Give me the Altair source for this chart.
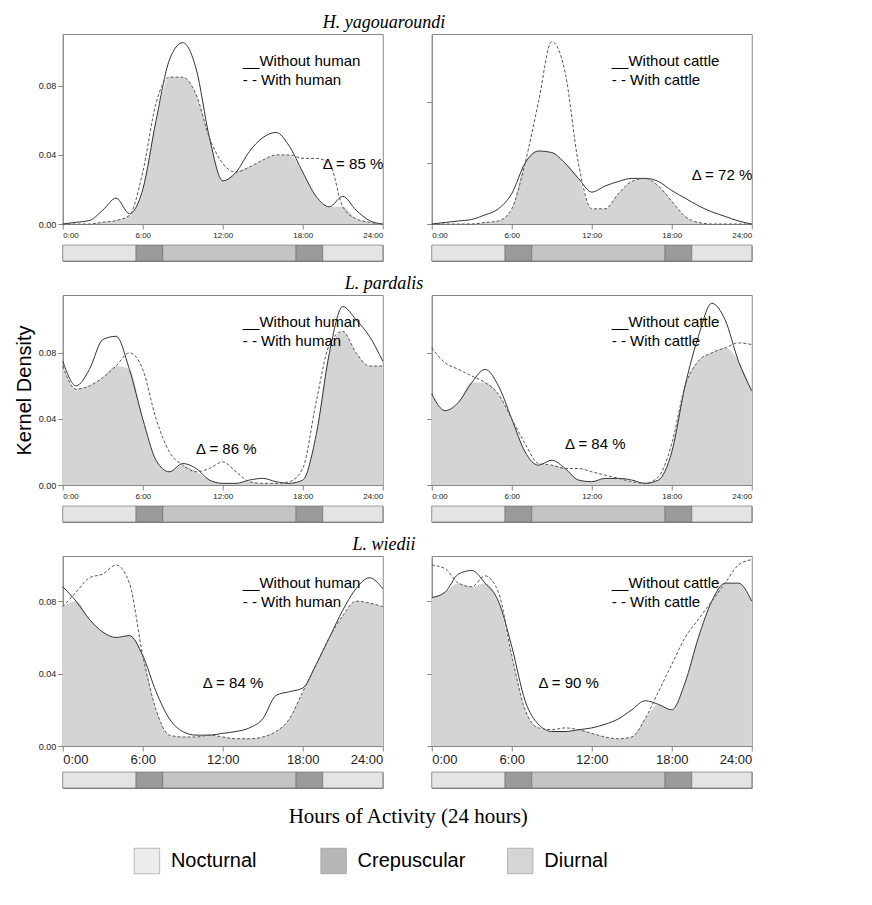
import altair as alt
import pandas as pd

HOURS = list(range(25))

# H. yagouaroundi
YAG_H_SOLID = [0, .001, .002, .008, .015, .006, .02, .06, .095, .105, .09, .05, .025, .03, .042, .05, .053, .045, .03, .016, .01, .016, .008, .002, 0]
YAG_H_DASH = [0, 0, 0, .001, .002, .005, .03, .07, .085, .085, .075, .05, .035, .03, .033, .037, .04, .04, .038, .038, .035, .01, .003, .001, 0]
YAG_C_SOLID = [0, .001, .002, .003, .006, .01, .02, .04, .048, .047, .04, .03, .021, .025, .028, .03, .03, .028, .022, .017, .012, .008, .005, .002, 0]
YAG_C_DASH = [0, 0, 0, 0, .001, .002, .01, .04, .08, .12, .1, .04, .01, .01, .02, .028, .03, .025, .015, .005, .001, 0, 0, 0, 0]
# L. pardalis
PAR_H_SOLID = [.075, .06, .07, .088, .09, .07, .04, .015, .008, .013, .01, .003, .001, .001, .003, .004, .002, .001, .003, .03, .08, .108, .1, .09, .075]
PAR_H_DASH = [.072, .058, .06, .065, .072, .08, .07, .04, .02, .012, .008, .01, .014, .008, .002, .001, .001, .002, .01, .05, .085, .093, .08, .072, .072]
PAR_C_SOLID = [.055, .045, .05, .062, .07, .06, .04, .02, .012, .015, .01, .003, .002, .004, .004, .003, .001, .003, .02, .06, .09, .11, .1, .075, .057]
PAR_C_DASH = [.083, .074, .07, .066, .062, .055, .04, .025, .013, .012, .01, .01, .008, .006, .004, .002, .001, .005, .025, .06, .075, .08, .083, .086, .085]
# L. wiedii
WIE_H_SOLID = [.088, .08, .07, .063, .06, .061, .05, .03, .015, .008, .006, .006, .007, .008, .01, .015, .028, .03, .032, .045, .06, .075, .087, .093, .087]
WIE_H_DASH = [.077, .085, .093, .095, .1, .09, .05, .02, .006, .005, .005, .006, .005, .004, .004, .005, .008, .015, .03, .045, .06, .072, .08, .079, .077]
WIE_C_SOLID = [.082, .085, .095, .097, .09, .08, .055, .025, .012, .008, .008, .009, .01, .012, .015, .02, .025, .023, .02, .035, .06, .08, .09, .09, .08]
WIE_C_DASH = [.1, .098, .09, .088, .094, .085, .05, .02, .01, .009, .01, .009, .007, .005, .004, .005, .015, .03, .045, .06, .07, .08, .09, .1, .103]

PERIOD_START = [0, 5.5, 7.5, 17.5, 19.5]
PERIOD_END = [5.5, 7.5, 17.5, 19.5, 24]
PERIOD_TYPE = ['Nocturnal', 'Crepuscular', 'Diurnal', 'Crepuscular', 'Nocturnal']
TYPES = ['Nocturnal', 'Crepuscular', 'Diurnal']
TYPE_COLOURS = ['#e4e4e4', '#9a9a9a', '#c4c4c4']

W, H = 320, 190
SANS = 'Liberation Sans'
SERIF = 'Liberation Serif'


def panel(solid, dash, who, delta, dpos, ymax, left, big):
    df = pd.DataFrame({'h': HOURS, 'solid': solid, 'dash': dash})
    df['overlap'] = df[['solid', 'dash']].min(axis=1)
    x = alt.X('h:Q', scale=alt.Scale(domain=[0, 24], nice=False), title=None,
              axis=alt.Axis(values=[0, 6, 12, 18, 24], labelExpr="datum.value + ':00'",
                            labelFontSize=13 if big else 8, labelFont=SANS, grid=False,
                            labelColor='#222'))
    yax = alt.Axis(values=[0, .02, .04, .06, .08, .1], format='.2f', grid=False,
                   labelFontSize=9, labelFont=SANS, labelColor='#222', labelOverlap=False,
                   labels=left, title='Kernel Density' if left else None,
                   titleFontSize=20, titleFont=SANS, titleFontWeight='normal',
                   titleColor='black' if who == 'human' and delta == '86' else 'transparent')
    y = alt.Y('overlap:Q', scale=alt.Scale(domain=[0, ymax], nice=False), axis=yax)
    base = alt.Chart(df)
    area = base.mark_area(color='#d4d4d4', interpolate='monotone').encode(x=x, y=y)
    l1 = base.mark_line(color='#333', strokeWidth=1, interpolate='monotone').encode(x=x, y='solid:Q')
    l2 = base.mark_line(color='#556', strokeWidth=1, strokeDash=[3, 2], interpolate='monotone').encode(x=x, y='dash:Q')
    lx, ly = 13.5, ymax * 0.86
    t = pd.DataFrame({'h': [lx, lx, dpos[0]], 'v': [ly, ly - ymax * 0.1, dpos[1]],
                      'txt': ['__Without  ' + who, '- - With ' + who, 'Δ = ' + delta + ' %']})
    txt = alt.Chart(t).mark_text(align='left', font=SANS, fontSize=15).encode(
        x='h:Q', y='v:Q', text='txt:N')
    return alt.layer(area, l1, l2, txt).properties(width=W, height=H)


def strip():
    df = pd.DataFrame({'s': PERIOD_START, 'e': PERIOD_END, 't': PERIOD_TYPE})
    return alt.Chart(df).mark_rect(stroke='#666', strokeWidth=0.6).encode(
        x=alt.X('s:Q', scale=alt.Scale(domain=[0, 24], nice=False), axis=None),
        x2='e:Q',
        color=alt.Color('t:N', scale=alt.Scale(domain=TYPES, range=TYPE_COLOURS), legend=None),
    ).properties(width=W, height=16)


def row(title, pairs, big=False):
    cols = []
    for i, (s, d, who, delta, dpos, ymax) in enumerate(pairs):
        cols.append(alt.vconcat(panel(s, d, who, delta, dpos, ymax, i == 0, big), strip(), spacing=4))
    return alt.hconcat(*cols, spacing=40).properties(
        title=alt.TitleParams(title, font=SERIF, fontStyle='italic', fontSize=18,
                              fontWeight='normal', anchor='middle', offset=2))


rows = [
    row('H. yagouaroundi', [
        (YAG_H_SOLID, YAG_H_DASH, 'human', '85', (19.5, .035), .11),
        (YAG_C_SOLID, YAG_C_DASH, 'cattle', '72', (19.5, .032), .125)]),
    row('L. pardalis', [
        (PAR_H_SOLID, PAR_H_DASH, 'human', '86', (10, .022), .115),
        (PAR_C_SOLID, PAR_C_DASH, 'cattle', '84', (10, .025), .115)]),
    row('L. wiedii', [
        (WIE_H_SOLID, WIE_H_DASH, 'human', '84', (10.5, .035), .105),
        (WIE_C_SOLID, WIE_C_DASH, 'cattle', '90', (8, .035), .105)], big=True),
]

xtitle = alt.Chart(pd.DataFrame({'t': ['Hours of Activity (24 hours)']})).mark_text(
    font=SERIF, fontSize=21).encode(text='t:N').properties(
    width=700, height=30, view=alt.ViewBackground(stroke='transparent'))

leg = pd.DataFrame({'t': TYPES, 'p': [0, 1, 2]})
lx = alt.X('p:Q', scale=alt.Scale(domain=[-0.1, 2.9]), axis=None)
legend = alt.layer(
    alt.Chart(leg).mark_square(size=650, stroke='#666', strokeWidth=0.6).encode(
        x=lx, color=alt.Color('t:N', scale=alt.Scale(domain=TYPES, range=TYPE_COLOURS), legend=None)),
    alt.Chart(leg).mark_text(align='left', dx=24, font=SANS, fontSize=20).encode(x=lx, text='t:N'),
).properties(width=560, height=30, view=alt.ViewBackground(stroke='transparent'))

chart = alt.vconcat(*rows, xtitle, legend, spacing=12, center=True).configure_view(
    stroke='#888').configure_concat(spacing=12)

chart.save("out.html", embed_options={"renderer": "svg", "actions": False})
